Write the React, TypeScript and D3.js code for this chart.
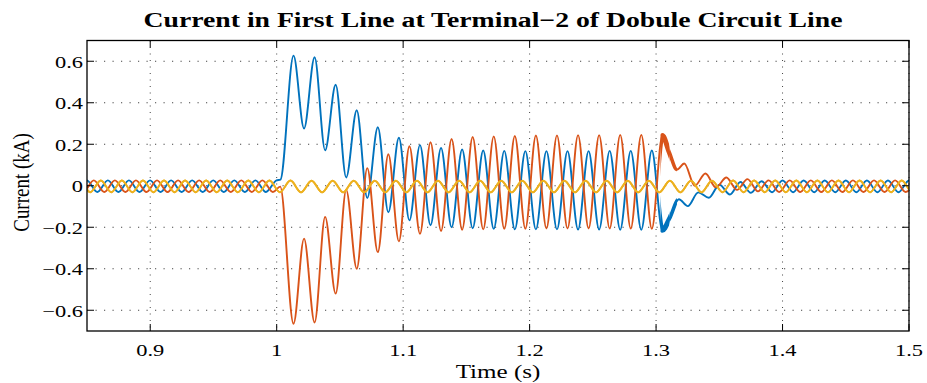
import React from 'react';
import * as d3 from 'd3';

// ---- data ----
const HALF_CYCLE = 1 / 120; // 60 Hz half period (s)

const xTicks = [0.9, 1.0, 1.1, 1.2, 1.3, 1.4, 1.5];
const xTickLabels = ['0.9', '1', '1.1', '1.2', '1.3', '1.4', '1.5'];
const yTicks = [-0.6, -0.4, -0.2, 0, 0.2, 0.4, 0.6];
const yTickLabels = ['\u22120.6', '\u22120.4', '\u22120.2', '0', '0.2', '0.4', '0.6'];

// Phase 1 (blue) extrema
const bluePreStart = 0.8415;
const bluePre = [-0.03, 0.026, -0.03, 0.026, -0.03, 0.026, -0.03, 0.026, -0.03, 0.026,
  -0.03, 0.026, -0.03, 0.026, -0.03, 0.026, -0.03, 0.026, -0.03, 0.026];
const blueFaultStart = 1.0133;
const blueFault = [0.627, 0.276, 0.619, 0.171, 0.487, 0.04, 0.364, -0.059, 0.282, -0.128,
  0.231, -0.167, 0.196, -0.19, 0.182, -0.2, 0.175, -0.205, 0.17, -0.208,
  0.168, -0.21, 0.167, -0.21, 0.167, -0.21, 0.167, -0.211, 0.167, -0.211,
  0.168, -0.212, 0.168, -0.212, 0.17, -0.215];
const blueOnsetT = [1.003];
const blueOnsetV = [0.03];
const blueClearT = [1.3105, 1.318, 1.3251, 1.3334, 1.3417, 1.3501, 1.3584, 1.3667, 1.375, 1.3834];
const blueClearV = [-0.16, -0.065, -0.098, -0.032, -0.058, 0.005, -0.042, 0.018, -0.034, 0.022];
const bluePostStart = 1.3917;
const bluePost = [-0.031, 0.025, -0.031, 0.025, -0.031, 0.025, -0.031, 0.025, -0.031, 0.025,
  -0.031, 0.025, -0.031, 0.025, -0.031];

// Phase 2 (orange) extrema
const orangePreStart = 0.8387;
const orangePre = [0.026, -0.03, 0.026, -0.03, 0.026, -0.03, 0.026, -0.03, 0.026, -0.03,
  0.026, -0.03, 0.026, -0.03, 0.026, -0.03, 0.026, -0.03, 0.026, -0.03];
const orangeFaultStart = 1.0133;
const orangeFault = [-0.665, -0.255, -0.659, -0.15, -0.52, -0.02, -0.4, 0.085, -0.32, 0.152,
  -0.268, 0.19, -0.232, 0.21, -0.218, 0.225, -0.212, 0.235, -0.21, 0.238,
  -0.208, 0.24, -0.207, 0.242, -0.206, 0.243, -0.206, 0.244, -0.206, 0.244,
  -0.206, 0.245, -0.206, 0.245, -0.207, 0.242];
const orangeOnsetT = [1.0028];
const orangeOnsetV = [-0.004];
const orangeClearT = [1.3105, 1.3165, 1.3223, 1.3306, 1.339, 1.3473, 1.3556, 1.364, 1.3723, 1.3806];
const orangeClearV = [0.16, 0.078, 0.107, 0.0, 0.059, -0.008, 0.04, -0.02, 0.032, -0.027];
const orangePostStart = 1.389;
const orangePost = [0.026, -0.03, 0.026, -0.03, 0.026, -0.03, 0.026, -0.03, 0.026, -0.03,
  0.026, -0.03, 0.026, -0.03, 0.026];

// Phase 3 (yellow) extrema
const yellowStart = 0.8359;
const yellowValues = [
  -0.031, 0.025, -0.031, 0.025, -0.031, 0.025, -0.031, 0.025, -0.031, 0.025,
  -0.031, 0.025, -0.031, 0.025, -0.031, 0.025, -0.031, 0.025, -0.031, 0.025,
  -0.031, 0.025, -0.032, 0.024, -0.032, 0.024, -0.032, 0.024, -0.032, 0.024,
  -0.032, 0.024, -0.032, 0.024, -0.032, 0.024, -0.032, 0.024, -0.032, 0.024,
  -0.032, 0.024, -0.032, 0.024, -0.032, 0.024, -0.032, 0.024, -0.032, 0.024,
  -0.032, 0.024, -0.032, 0.024, -0.032, 0.024, -0.032, 0.024, -0.032, 0.024,
  -0.032, 0.024, -0.031, 0.025, -0.031, 0.025, -0.031, 0.025, -0.031, 0.025,
  -0.031, 0.025, -0.031, 0.025, -0.031, 0.025, -0.031, 0.025, -0.031, 0.025,
  -0.031, 0.025];

const seriesColors = ['#0072BD', '#D95319', '#EDB120'];

// ---- helpers ----
type Pt = [number, number];
const grid = (t0: number, vals: number[]): Pt[] => vals.map((v, i) => [t0 + i * HALF_CYCLE, v] as Pt);
const pairs = (ts: number[], vs: number[]): Pt[] => ts.map((t, i) => [t, vs[i]] as Pt);

const blueSeries: Pt[] = [
  ...grid(bluePreStart, bluePre),
  ...pairs(blueOnsetT, blueOnsetV),
  ...grid(blueFaultStart, blueFault),
  ...pairs(blueClearT, blueClearV),
  ...grid(bluePostStart, bluePost),
];
const orangeSeries: Pt[] = [
  ...grid(orangePreStart, orangePre),
  ...pairs(orangeOnsetT, orangeOnsetV),
  ...grid(orangeFaultStart, orangeFault),
  ...pairs(orangeClearT, orangeClearV),
  ...grid(orangePostStart, orangePost),
];
const yellowSeries: Pt[] = grid(yellowStart, yellowValues);

const W = 927;
const H = 383;
const M = { left: 87, right: 909, top: 40.5, bottom: 331 };
const SX = 1.32; // horizontal text stretch seen in the picture
const FONT = "'Liberation Serif', 'Times New Roman', serif";

const Txt = ({ x, y, anchor, size, weight, children }: any) => (
  <text
    transform={`translate(${x},${y}) scale(${SX},1)`}
    textAnchor={anchor || 'middle'}
    fontSize={size}
    fontWeight={weight || 'normal'}
    fontFamily={FONT}
    fill="#000"
  >
    {children}
  </text>
);

export default function App() {
  const x = d3.scaleLinear().domain([0.85, 1.5]).range([M.left, M.right]);
  const y = d3.scaleLinear().domain([-0.7, 0.7]).range([M.bottom, M.top]);
  const line = d3
    .line<Pt>()
    .x((d) => x(d[0]))
    .y((d) => y(d[1]))
    .curve(d3.curveMonotoneX);

  const series = [blueSeries, orangeSeries, yellowSeries];
  const tickLen = 7;

  return (
    <svg width={W} height={H} style={{ position: 'absolute', left: 0, top: 0, background: '#fff' }}>
      <rect x={0} y={0} width={W} height={H} fill="#fff" />
      <defs>
        <clipPath id="plot">
          <rect x={M.left} y={M.top} width={M.right - M.left} height={M.bottom - M.top} />
        </clipPath>
        <clipPath id="thickA">
          <rect x={x(1.3035)} y={M.top} width={x(1.3105) - x(1.3035)} height={M.bottom - M.top} />
        </clipPath>
        <clipPath id="thickB">
          <rect x={x(1.3105)} y={M.top} width={x(1.3165) - x(1.3105)} height={M.bottom - M.top} />
        </clipPath>
      </defs>

      {/* grid */}
      <g stroke="#444" strokeWidth={1} fill="none">
        {xTicks.map((t, i) => (
          <line key={'gx' + i} x1={x(t)} x2={x(t)} y1={M.top} y2={M.bottom} strokeDasharray="1 5.5" />
        ))}
        {yTicks.map((t, i) => (
          <line key={'gy' + i} x1={M.left} x2={M.right} y1={y(t)} y2={y(t)} strokeDasharray="1.2 7.3" />
        ))}
      </g>

      {/* series */}
      <g clipPath="url(#plot)" fill="none" strokeLinejoin="round" strokeLinecap="round">
        {series.map((s, i) => (
          <path key={'s' + i} d={line(s) || ''} stroke={seriesColors[i]} strokeWidth={1.9} />
        ))}
        {[0, 1].map((i) => (
          <path key={'ta' + i} d={line(series[i]) || ''} stroke={seriesColors[i]} strokeWidth={5} clipPath="url(#thickA)" />
        ))}
        {[0, 1].map((i) => (
          <path key={'tb' + i} d={line(series[i]) || ''} stroke={seriesColors[i]} strokeWidth={3.6} clipPath="url(#thickB)" />
        ))}
        <path d={line(yellowSeries) || ''} stroke={seriesColors[2]} strokeWidth={1.9} />
      </g>

      {/* box + ticks */}
      <rect x={M.left} y={M.top} width={M.right - M.left} height={M.bottom - M.top} fill="none" stroke="#000" strokeWidth={1.3} />
      <g stroke="#000" strokeWidth={1}>
        {xTicks.map((t, i) => (
          <g key={'tx' + i}>
            <line x1={x(t)} x2={x(t)} y1={M.bottom} y2={M.bottom - tickLen} />
            <line x1={x(t)} x2={x(t)} y1={M.top} y2={M.top + tickLen} />
          </g>
        ))}
        {yTicks.map((t, i) => (
          <g key={'ty' + i}>
            <line x1={M.left} x2={M.left + tickLen} y1={y(t)} y2={y(t)} />
            <line x1={M.right} x2={M.right - tickLen} y1={y(t)} y2={y(t)} />
          </g>
        ))}
      </g>

      {/* tick labels */}
      {xTicks.map((t, i) => (
        <Txt key={'lx' + i} x={x(t)} y={355.5} size={17}>{xTickLabels[i]}</Txt>
      ))}
      {yTicks.map((t, i) => (
        <Txt key={'ly' + i} x={83} y={y(t) + 6.5} size={17} anchor="end">{yTickLabels[i]}</Txt>
      ))}

      {/* axis labels */}
      <Txt x={(M.left + M.right) / 2} y={378} size={19}>Time (s)</Txt>
      <text
        transform={`translate(29,182.5) rotate(-90) scale(1,1.2)`}
        textAnchor="middle"
        fontSize={19}
        fontFamily={FONT}
      >
        Current (kA)
      </text>

      {/* title */}
      <Txt x={493} y={27} size={21} weight="bold">
        Current in First Line at Terminal{'\u2212'}2 of Dobule Circuit Line
      </Txt>
    </svg>
  );
}
